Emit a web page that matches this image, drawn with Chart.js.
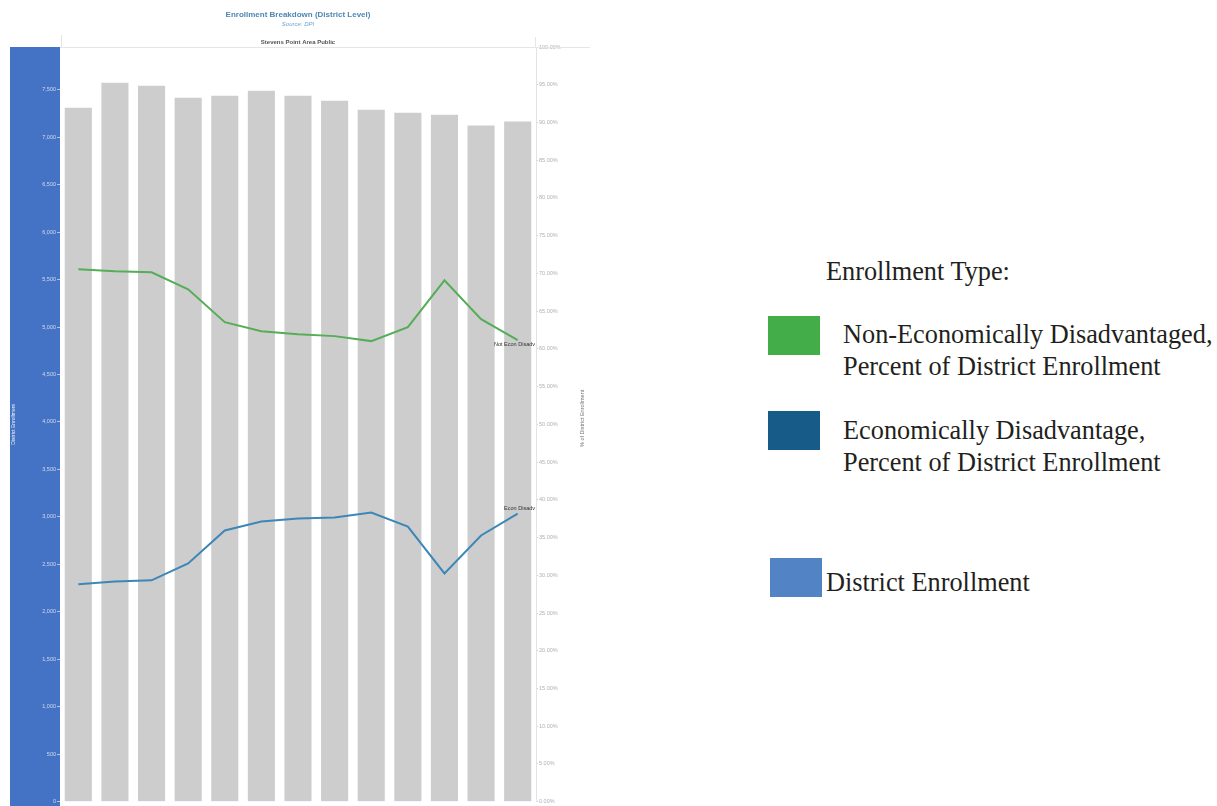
<!DOCTYPE html>
<html>
<head>
<meta charset="utf-8">
<script src="https://cdn.jsdelivr.net/npm/chart.js@4/dist/chart.umd.min.js"></script>
<style>
  html, body { margin: 0; padding: 0; background: #fff; }
  body { width: 1217px; height: 806px; position: relative; overflow: hidden; }
  #wrap { position: absolute; left: 0; top: 0; width: 600px; height: 806px; }
  .lg { position: absolute; font-family: "Liberation Serif", "DejaVu Serif", serif; font-size: 26.3px; line-height: 32px; color: #231f20; white-space: nowrap; }
  .sw { position: absolute; }
</style>
</head>
<body>
<div id="wrap"><canvas id="c" width="600" height="806"></canvas></div>

<div class="lg" style="left:826px; top:256px;">Enrollment Type:</div>
<div class="sw" style="left:768px; top:316px; width:52px; height:39px; background:#42ad49;"></div>
<div class="lg" style="left:843px; top:319px;">Non-Economically Disadvantaged,<br>Percent of District Enrollment</div>
<div class="sw" style="left:768px; top:411px; width:52px; height:39px; background:#175c89;"></div>
<div class="lg" style="left:843px; top:415px;">Economically Disadvantage,<br>Percent of District Enrollment</div>
<div class="sw" style="left:770px; top:558px; width:52px; height:39px; background:#5183c5;"></div>
<div class="lg" style="left:826px; top:567px;">District Enrollment</div>

<script>
const categories = ['2005-06','2006-07','2007-08','2008-09','2009-10','2010-11','2011-12','2012-13','2013-14','2014-15','2015-16','2016-17','2017-18'];
const enrollment = [7311, 7574, 7542, 7416, 7437, 7489, 7437, 7384, 7290, 7258, 7237, 7122, 7164];
const nonEconPct = [70.54, 70.28, 70.15, 67.9, 63.54, 62.35, 61.95, 61.69, 61.03, 62.88, 69.09, 63.94, 61.16];
const econPct = [28.8, 29.19, 29.33, 31.57, 35.93, 37.12, 37.52, 37.65, 38.31, 36.46, 30.25, 35.27, 38.18];
const lineLabels = ['Not Econ Disadv', 'Econ Disadv'];
const enrollStep = 500;
const enrollMax = 7950;
const pctStep = 5;

const SANS = '"Liberation Sans", Arial, Helvetica, sans-serif';

const decor = {
  id: 'decor',
  beforeDraw(chart) {
    const {ctx, chartArea} = chart;
    const y = chart.scales.y;
    ctx.save();
    ctx.fillStyle = '#4472c4';
    ctx.fillRect(y.left, chartArea.top, chartArea.left - y.left, chart.height - chartArea.top);
    ctx.restore();
  },
  afterDraw(chart) {
    const {ctx, chartArea} = chart;
    ctx.save();
    ctx.strokeStyle = '#e6e6e6';
    ctx.lineWidth = 1;
    ctx.beginPath();
    ctx.moveTo(chartArea.left, chartArea.top + 0.5);
    ctx.lineTo(590, chartArea.top + 0.5);
    ctx.moveTo(chartArea.left + 1.5, chartArea.top - 12);
    ctx.lineTo(chartArea.left + 1.5, chartArea.top);
    ctx.moveTo(chartArea.right - 0.5, chartArea.top - 10);
    ctx.lineTo(chartArea.right - 0.5, chartArea.top);
    ctx.stroke();
    ctx.translate(582, (chartArea.top + chartArea.bottom) / 2 - 6);
    ctx.rotate(-Math.PI / 2);
    ctx.fillStyle = '#777';
    ctx.font = '5.5px ' + SANS;
    ctx.textAlign = 'center';
    ctx.textBaseline = 'middle';
    ctx.fillText('% of District Enrollment', 0, 0);
    ctx.restore();
    ctx.save();
    ctx.font = '5.5px ' + SANS;
    ctx.fillStyle = '#333';
    ctx.textAlign = 'right';
    ctx.textBaseline = 'middle';
    [1, 2].forEach((di, k) => {
      const meta = chart.getDatasetMeta(di);
      const pt = meta.data[meta.data.length - 1];
      const dy = k === 0 ? 4 : -5;
      ctx.fillText(lineLabels[k], chartArea.right - 1, pt.y + dy);
    });
    ctx.restore();
  }
};

new Chart(document.getElementById('c'), {
  data: {
    labels: categories,
    datasets: [
      { type: 'bar', label: 'District Enrollment', data: enrollment, yAxisID: 'y', xAxisID: 'x',
        backgroundColor: '#cdcdcd', borderWidth: 0, barPercentage: 0.74, categoryPercentage: 1.0, order: 3 },
      { type: 'line', label: 'Non-Economically Disadvantaged, Percent of District Enrollment', data: nonEconPct,
        yAxisID: 'y1', xAxisID: 'x', borderColor: '#55ad58', borderWidth: 2, pointRadius: 0, tension: 0, fill: false, order: 1 },
      { type: 'line', label: 'Economically Disadvantage, Percent of District Enrollment', data: econPct,
        yAxisID: 'y1', xAxisID: 'x', borderColor: '#3d87b8', borderWidth: 2, pointRadius: 0, tension: 0, fill: false, order: 2 }
    ]
  },
  options: {
    responsive: false,
    animation: false,
    layout: { padding: { left: 10, right: 0, top: 0, bottom: 2 } },
    plugins: {
      legend: { display: false },
      tooltip: { enabled: false },
      title: { display: true, text: 'Enrollment Breakdown (District Level)', fullSize: false,
        color: '#4f87b0', font: { family: SANS, size: 8, weight: 'bold' }, padding: { top: 10, bottom: 0 } },
      subtitle: { display: true, text: 'Source: DPI', fullSize: false,
        color: '#6fa3c9', font: { family: SANS, size: 6, style: 'italic' }, padding: { top: 1, bottom: 0 } }
    },
    scales: {
      x: { type: 'category', display: false, offset: true },
      x2: { type: 'category', position: 'top', labels: categories, offset: true,
        grid: { display: false, drawTicks: false }, border: { display: false }, ticks: { display: false },
        title: { display: true, text: 'Stevens Point Area Public', color: '#555',
          font: { family: SANS, size: 6, weight: 'bold' }, padding: { top: 10.6, bottom: 1.4 } } },
      y: { type: 'linear', position: 'left', min: 0, max: enrollMax,
        afterFit(s) { s.width = 50; },
        afterBuildTicks(s) {
          const t = [];
          for (let v = 0; v <= enrollMax; v += enrollStep) t.push({ value: v });
          s.ticks = t;
        },
        ticks: { color: 'rgba(255,255,255,0.72)', padding: 1, autoSkip: false,
          font: { family: SANS, size: 5.5 },
          callback: v => v.toLocaleString('en-US') },
        grid: { drawOnChartArea: false, drawTicks: true, tickLength: 3, color: 'rgba(255,255,255,0.6)' },
        border: { display: false },
        title: { display: true, text: 'District Enrollment', color: 'rgba(255,255,255,0.9)',
          font: { family: SANS, size: 5 }, padding: { top: 1, bottom: 0 } } },
      y1: { type: 'linear', position: 'right', min: 0, max: 100,
        afterFit(s) { s.width = 64; },
        ticks: { stepSize: pctStep, color: '#b0b0b0', padding: 1,
          font: { family: SANS, size: 5.5 },
          callback: v => v.toFixed(2) + '%' },
        grid: { drawOnChartArea: false, drawTicks: true, tickLength: 2, color: '#d0d0d0' },
        border: { display: true, color: '#e3e3e3' } }
    }
  },
  plugins: [decor]
});
</script>
</body>
</html>
